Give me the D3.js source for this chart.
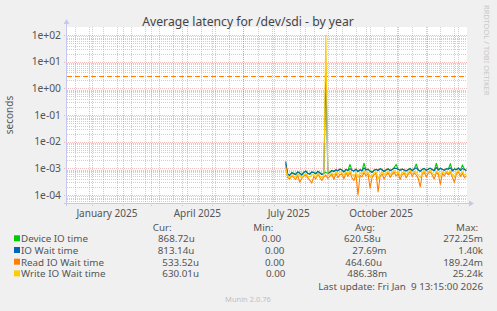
<!DOCTYPE html>
<html>
<head>
<meta charset="utf-8">
<style>
  body{margin:0;background:#f0f0f0;}
  svg{display:block;font-family:"Noto Sans",sans-serif;}
  text{fill:#555;}
</style>
</head>
<body>
<svg width="497" height="311"></svg>
<script src="https://cdn.jsdelivr.net/npm/d3@7"></script>
<script>

// ---- data (values in milliseconds, one sample every 2 days) ----
var seriesNames = ["Device IO time", "IO Wait time", "Read IO Wait time", "Write IO Wait time"];
var seriesColors = ["#00cc00", "#0066b3", "#ff8000", "#ffcc00"];
var firstSample = new Date(2025, 6, 13);
var stepDays = 2;

var deviceIO = [
  1.50,0.62,0.55,0.70,0.65,0.60,0.75,0.68,0.58,0.72,
  0.80,0.66,0.62,0.74,0.70,0.64,0.78,0.69,0.60,0.66,
  0.70,0.65,0.72,0.85,0.78,0.90,0.82,0.95,0.88,0.75,
  0.92,0.84,1.40,0.86,0.80,0.95,0.78,0.90,0.82,1.55,
  0.88,0.94,0.80,0.72,0.86,0.92,0.85,0.98,0.90,0.78,
  0.88,0.96,0.84,0.90,1.05,1.40,0.92,0.86,0.95,0.88,
  0.82,0.90,1.00,0.84,0.96,1.45,0.88,0.80,0.92,1.00,
  0.86,0.94,1.02,0.90,0.84,1.55,0.88,1.02,0.92,0.86,
  0.98,0.94,1.50,0.82,0.96,0.90,1.05,0.86,1.35,0.92,
  0.87];
var ioWait = [
  1.80,0.60,0.54,0.68,0.63,0.58,0.72,0.66,0.56,0.70,
  0.78,0.64,0.60,0.72,0.68,0.62,0.76,0.67,0.58,0.64,
  4000,0.63,0.70,0.82,0.76,0.88,0.80,0.92,0.86,0.73,
  0.90,0.82,0.98,0.84,0.78,0.92,0.76,0.88,0.80,1.05,
  0.86,0.92,0.78,0.70,0.84,0.90,0.83,0.96,0.88,0.76,
  0.86,0.94,0.82,0.88,1.02,1.00,0.90,0.84,0.93,0.86,
  0.80,0.88,0.97,0.82,0.94,1.05,0.86,0.78,0.90,0.98,
  0.84,0.92,1.00,0.88,0.82,1.08,0.86,1.00,0.90,0.84,
  0.96,0.92,1.05,0.80,0.94,0.88,1.02,0.84,0.98,0.90,
  0.81];
var readWait = [
  1.20,0.45,0.40,0.52,0.46,0.38,0.55,0.30,0.42,0.50,
  0.58,0.44,0.36,0.28,0.50,0.40,0.62,0.45,0.35,0.48,
  0.55,0.42,0.50,0.60,0.38,0.66,0.45,0.58,0.62,0.40,
  0.68,0.50,0.72,0.44,0.35,0.60,0.10,0.55,0.48,0.70,
  0.52,0.64,0.18,0.45,0.58,0.66,0.13,0.50,0.62,0.40,
  0.55,0.70,0.46,0.60,0.72,0.52,0.64,0.38,0.58,0.66,
  0.44,0.60,0.75,0.50,0.68,0.56,0.42,0.20,0.62,0.70,
  0.48,0.66,0.74,0.55,0.40,0.68,0.60,0.25,0.64,0.52,
  0.70,0.58,0.72,0.46,0.30,0.62,0.74,0.50,0.66,0.44,
  0.53];
var writeWait = [
  1.00,0.50,0.46,0.58,0.52,0.48,0.60,0.55,0.44,0.57,
  0.64,0.50,0.48,0.56,0.58,0.46,0.66,0.52,0.45,0.54,
  100000,0.52,0.58,0.68,0.55,0.72,0.60,0.74,0.70,0.56,
  0.74,0.62,0.80,0.58,0.50,0.70,0.45,0.68,0.60,0.82,
  0.64,0.72,0.48,0.55,0.66,0.74,0.40,0.62,0.75,0.58,
  0.66,0.78,0.60,0.70,0.82,0.68,0.74,0.52,0.70,0.76,
  0.58,0.70,0.84,0.62,0.76,0.72,0.56,0.45,0.70,0.80,
  0.62,0.74,0.82,0.66,0.55,0.78,0.70,0.50,0.74,0.64,
  0.78,0.68,0.80,0.58,0.48,0.70,0.82,0.60,0.74,0.56,
  0.63];
var warningLevel = 3; // seconds, dashed line

var curVals = ["868.72u", "813.14u", "533.52u", "630.01u"];
var minVals = ["0.00", "0.00", "0.00", "0.00"];
var avgVals = ["620.58u", "27.69m", "464.60u", "486.38m"];
var maxVals = ["272.25m", "1.40k", "189.24m", "25.24k"];
var yTickLabels = ["1e+02","1e+01","1e+00","1e-01","1e-02","1e-03","1e-04"];
var monthLabels = [new Date(2025,0,1), new Date(2025,3,1), new Date(2025,6,1), new Date(2025,9,1)];

// ---- layout ----
var svg = d3.select("svg");
var pLeft = 67, pRight = 467, pTop = 27, pBottom = 203;

var x = d3.scaleTime()
  .domain([new Date(2024, 11, 7, 6, 0), new Date(2026, 0, 9, 13, 15)])
  .range([pLeft, pRight]);
var y = d3.scaleLog()
  .domain([Math.pow(10, -4.3), Math.pow(10, 2.3)])
  .range([pBottom, pTop]);

svg.append("rect").attr("x", pLeft).attr("y", pTop)
  .attr("width", pRight - pLeft).attr("height", pBottom - pTop).attr("fill", "#fff");

// horizontal grid
var minorY = [], majorY = [];
for (var e = 2; e >= -5; e--) {
  for (var m = 9; m >= 1; m--) {
    var v = m * Math.pow(10, e);
    if (v < y.domain()[0] || v > y.domain()[1]) continue;
    if (m == 1) majorY.push(v); else minorY.push(v);
  }
}
var grid = svg.append("g");
var minorCol = "rgba(160,160,160,0.5)", majorCol = "rgba(225,90,90,0.4)";
function px(v){ return Math.round(v) + 0.5; }

grid.selectAll("line.hmin").data(minorY).enter().append("line")
  .attr("x1", pLeft).attr("x2", pRight)
  .attr("y1", function(d){return px(y(d));}).attr("y2", function(d){return px(y(d));})
  .attr("stroke", minorCol).attr("stroke-dasharray", "1,1");

// vertical grid: minor every two weeks, major at each month
var minorX = d3.timeWeek.range(new Date(2024, 11, 15), x.domain()[1], 2);
var majorX = d3.timeMonth.range(x.domain()[0], x.domain()[1]);
grid.selectAll("line.vmin").data(minorX).enter().append("line")
  .attr("y1", pTop).attr("y2", pBottom + 2)
  .attr("x1", function(d){return px(x(d));}).attr("x2", function(d){return px(x(d));})
  .attr("stroke", minorCol).attr("stroke-dasharray", "1,1");

grid.selectAll("line.hmaj").data(majorY).enter().append("line")
  .attr("x1", pLeft - 3).attr("x2", pRight)
  .attr("y1", function(d){return px(y(d));}).attr("y2", function(d){return px(y(d));})
  .attr("stroke", majorCol).attr("stroke-dasharray", "1,1");
grid.selectAll("line.vmaj").data(majorX).enter().append("line")
  .attr("y1", pTop).attr("y2", pBottom + 3)
  .attr("x1", function(d){return px(x(d));}).attr("x2", function(d){return px(x(d));})
  .attr("stroke", majorCol).attr("stroke-dasharray", "1,1");

// warning line
svg.append("line")
  .attr("x1", pLeft).attr("x2", pRight)
  .attr("y1", px(y(warningLevel))).attr("y2", px(y(warningLevel)))
  .attr("stroke", "#ff8000").attr("stroke-dasharray", "5,3");

// series
var allSeries = [deviceIO, ioWait, readWait, writeWait];
var line = d3.line()
  .x(function(d, i){return x(d3.timeDay.offset(firstSample, i * stepDays));})
  .y(function(d){return y(d / 1000);});
svg.append("g").selectAll("path").data(allSeries).enter().append("path")
  .attr("d", line)
  .attr("fill", "none")
  .attr("stroke", function(d, i){return seriesColors[i];})
  .attr("stroke-width", 1.1)
  .attr("stroke-linejoin", "round");

// axes
var axisColor = "#c4c8f0";
svg.append("line").attr("x1", pLeft - 0.5).attr("x2", pLeft - 0.5).attr("y1", pBottom + 3).attr("y2", 23)
  .attr("stroke", axisColor);
svg.append("path").attr("d", "M" + (pLeft - 3.5) + ",24L" + (pLeft - 0.5) + ",19L" + (pLeft + 2.5) + ",24Z").attr("fill", axisColor);
svg.append("line").attr("x1", pLeft - 3).attr("x2", pRight + 3).attr("y1", pBottom + 0.5).attr("y2", pBottom + 0.5)
  .attr("stroke", axisColor);
svg.append("path").attr("d", "M" + (pRight + 2) + "," + (pBottom - 2.5) + "L" + (pRight + 7) + "," + (pBottom + 0.5) + "L" + (pRight + 2) + "," + (pBottom + 3.5) + "Z").attr("fill", axisColor);

// y tick labels
svg.append("g").selectAll("text").data(majorY).enter().append("text")
  .attr("x", 61).attr("y", function(d){return y(d) + 3.5;})
  .attr("text-anchor", "end").attr("font-size", "10.3px")
  .text(function(d, i){return yTickLabels[i];});

// x labels, centred half a month after the month start
svg.append("g").selectAll("text").data(monthLabels).enter().append("text")
  .attr("x", function(d){return x(d3.timeDay.offset(d, 15));})
  .attr("y", 216.5)
  .attr("text-anchor", "middle").attr("font-size", "10px")
  .text(d3.timeFormat("%B %Y"));

// title, axis title, watermark
svg.append("text").attr("x", 248).attr("y", 26).attr("text-anchor", "middle")
  .attr("font-size", "12.2px").style("fill", "#444")
  .text("Average latency for /dev/sdi - by year");
svg.append("text").attr("transform", "translate(13,115) rotate(-90)")
  .attr("text-anchor", "middle").attr("font-size", "10px")
  .text("seconds");
svg.append("text").attr("transform", "translate(484,5) rotate(90)")
  .attr("font-size", "7.5px").style("fill", "#c8c8c8")
  .text("RRDTOOL / TOBI OETIKER");

// legend
var rowY = [242.3, 254, 265.7, 277.4];
var lg = svg.append("g").attr("font-size", "9.8px");
var headers = [["Cur:", 152.7], ["Min:", 253.3], ["Avg:", 355], ["Max:", 456]];
headers.forEach(function(h){ lg.append("text").attr("x", h[1]).attr("y", 230.5).text(h[0]); });
var curX = [158, 157.7, 162.3, 162.3];
var minX = [261.7, 265, 265, 266];
var avgX = [344, 352.3, 345.3, 347.3];
seriesNames.forEach(function(name, i){
  lg.append("rect").attr("x", 14).attr("y", rowY[i] - 7).attr("width", 6).attr("height", 6)
    .attr("fill", seriesColors[i]);
  lg.append("text").attr("x", 21).attr("y", rowY[i]).text(name);
  lg.append("text").attr("x", curX[i]).attr("y", rowY[i]).text(curVals[i]);
  lg.append("text").attr("x", minX[i]).attr("y", rowY[i]).text(minVals[i]);
  lg.append("text").attr("x", avgX[i]).attr("y", rowY[i]).text(avgVals[i]);
  lg.append("text").attr("x", 483).attr("y", rowY[i]).attr("text-anchor", "end").text(maxVals[i]);
});
lg.append("text").attr("x", 483).attr("y", 289.5).attr("text-anchor", "end")
  .style("white-space", "pre")
  .text("Last update: Fri Jan  9 13:15:00 2026");
svg.append("text").attr("x", 248).attr("y", 301.5).attr("text-anchor", "middle")
  .attr("font-size", "7.5px").style("fill", "#c0c0c0")
  .text("Munin 2.0.76");

</script>
</body>
</html>
